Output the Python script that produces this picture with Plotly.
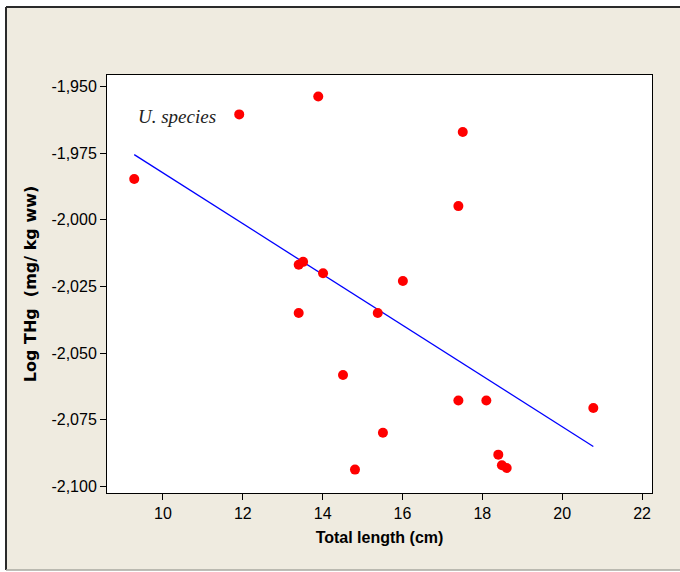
import numpy as np
import plotly.graph_objects as go

# ---- data ----
total_length = [9.28, 11.91, 13.89, 17.51, 17.40, 13.40, 13.51, 14.01, 16.01, 13.40,
                15.38, 14.51, 17.40, 18.10, 20.78, 15.51, 14.81, 18.40, 18.49, 18.61]
log_thg = [-1.9847, -1.9605, -1.9538, -1.9671, -1.9949, -2.0169, -2.0158, -2.0201, -2.0230, -2.0350,
           -2.0350, -2.0582, -2.0678, -2.0678, -2.0706, -2.0799, -2.0937, -2.0881, -2.0921, -2.0931]

x_tickvals = [10, 12, 14, 16, 18, 20, 22]
x_ticktext = ["10", "12", "14", "16", "18", "20", "22"]
y_tickvals = [-1.950, -1.975, -2.000, -2.025, -2.050, -2.075, -2.100]
y_ticktext = ["-1,950", "-1,975", "-2,000", "-2,025", "-2,050", "-2,075", "-2,100"]

label_text = "U. species"
x_title = "Total length (cm)"
y_title = "Log THg  (mg/ kg ww)"

# ---- regression line ----
xa = np.array(total_length)
ya = np.array(log_thg)
slope, intercept = np.polyfit(xa, ya, 1)
fit_x = [xa.min(), xa.max()]
fit_y = [intercept + slope * v for v in fit_x]

# ---- layout geometry ----
W, H = 680, 572
L, R, T, B = 107, 28, 75, 79
pw, ph = W - L - R, H - T - B


def px(xp):
    return (xp - L) / pw


def py(yp):
    return (H - B - yp) / ph


BEIGE = "#EFEBE0"
tick_font = dict(family="Liberation Sans", size=16, color="black")

fig = go.Figure()
fig.add_trace(go.Scatter(x=fit_x, y=fit_y, mode="lines",
                         line=dict(color="#0000FF", width=1.3), hoverinfo="skip"))
fig.add_trace(go.Scatter(x=total_length, y=log_thg, mode="markers",
                         marker=dict(color="#FF0000", size=10, line=dict(width=0))))

shapes = [
    dict(type="rect", xref="paper", yref="paper", x0=px(6), x1=px(W + 5), y0=py(570), y1=py(7),
         fillcolor=BEIGE, line=dict(width=0), layer="below"),
    dict(type="rect", xref="paper", yref="paper", x0=0, x1=1, y0=0, y1=1,
         fillcolor="white", line=dict(width=0), layer="below"),
    dict(type="line", xref="paper", yref="paper", x0=px(6), x1=px(W + 5), y0=py(7), y1=py(7),
         line=dict(color="#2A2A2A", width=2)),
    dict(type="line", xref="paper", yref="paper", x0=px(6), x1=px(6), y0=py(7), y1=py(570),
         line=dict(color="#2A2A2A", width=2)),
    dict(type="line", xref="paper", yref="paper", x0=px(6), x1=px(W + 5), y0=py(570), y1=py(570),
         line=dict(color="#A8A8A0", width=1.5)),
]

fig.update_layout(
    width=W, height=H,
    margin=dict(l=L, r=R, t=T, b=B),
    paper_bgcolor="white",
    plot_bgcolor="white",
    showlegend=False,
    shapes=shapes,
    annotations=[dict(x=9.33, y=-1.9614, xref="x", yref="y", text=label_text,
                      showarrow=False, xanchor="left", yanchor="middle",
                      font=dict(family="Liberation Serif", size=19, color="#222222", style="italic"))],
    xaxis=dict(range=[8.598, 22.25], tickvals=x_tickvals, ticktext=x_ticktext,
               showgrid=False, zeroline=False, showline=True, mirror=True,
               linecolor="black", linewidth=1, ticks="outside", ticklen=6,
               tickcolor="black", tickwidth=1, tickfont=tick_font,
               title=dict(text=x_title, standoff=10,
                          font=dict(family="Liberation Sans", size=16, color="black", weight="bold"))),
    yaxis=dict(range=[-2.10248, -1.94573], tickvals=y_tickvals, ticktext=y_ticktext,
               showgrid=False, zeroline=False, showline=True, mirror=True,
               linecolor="black", linewidth=1, ticks="outside", ticklen=6,
               tickcolor="black", tickwidth=1, tickfont=tick_font,
               title=dict(text=y_title, standoff=10,
                          font=dict(family="DejaVu Sans", size=16, color="black", weight="bold"))),
)

fig.write_html("out.html")
